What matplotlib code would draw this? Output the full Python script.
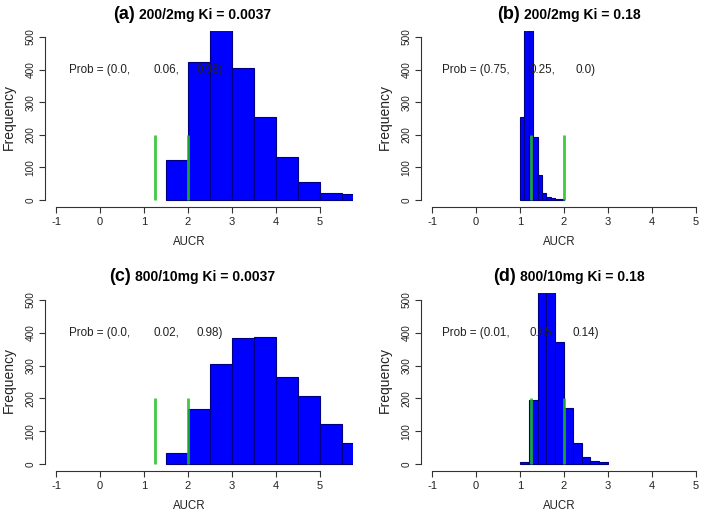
import matplotlib
matplotlib.use('Agg')
import matplotlib.pyplot as plt
from matplotlib.offsetbox import TextArea, HPacker, AnnotationBbox

# histogram bins and counts (clipped bars estimated above 520)
edges_a = [1.5, 2.0, 2.5, 3.0, 3.5, 4.0, 4.5, 5.0, 5.5, 6.0]
counts_a = [122, 423, 560, 404, 255, 131, 56, 22, 18]

edges_b = [1.0, 1.1, 1.2, 1.3, 1.4, 1.5, 1.6, 1.7, 1.8, 1.9, 2.0]
counts_b = [255, 740, 690, 194, 77, 20, 8, 6, 3, 2]

edges_c = [1.5, 2.0, 2.5, 3.0, 3.5, 4.0, 4.5, 5.0, 5.5, 6.0]
counts_c = [35, 168, 305, 383, 387, 265, 208, 122, 65]

edges_d = [1.0, 1.2, 1.4, 1.6, 1.8, 2.0, 2.2, 2.4, 2.6, 2.8, 3.0]
counts_d = [6, 195, 600, 555, 373, 170, 65, 22, 8, 6]

letters = ['(a)', '(b)', '(c)', '(d)']
titles = ['200/2mg Ki = 0.0037', '200/2mg Ki = 0.18',
          '800/10mg Ki = 0.0037', '800/10mg Ki = 0.18']
probs = [['Prob = (0.0,', '0.06,', '0.98)'],
         ['Prob = (0.75,', '0.25,', '0.0)'],
         ['Prob = (0.0,', '0.02,', '0.98)'],
         ['Prob = (0.01,', '0.85,', '0.14)']]
prob_x = [0, 1.5, 2.5]
prob_y = 400
cutoffs = [1.25, 2.0]
cutoff_height = 200
xticks = [-1, 0, 1, 2, 3, 4, 5]
yticks = [0, 100, 200, 300, 400, 500]

narrow = ['Liberation Sans Narrow', 'Liberation Sans', 'DejaVu Sans']
regular = ['Liberation Sans', 'DejaVu Sans']

fig = plt.figure(figsize=(7.04, 5.19), dpi=100)

W, H = 704.0, 519.0
# axes boxes in pixels: left, top, width, height
boxes = [(44.6, 30.5, 308.8, 176.0), (420.6, 30.5, 308.8, 176.0),
         (44.6, 293.4, 308.8, 177.2), (420.6, 293.4, 308.8, 177.2)]
xlab_x = [2.02, 1.9, 2.02, 1.9]

hists = [(edges_a, counts_a), (edges_b, counts_b), (edges_c, counts_c), (edges_d, counts_d)]

for i in range(4):
    l, t, w, h = boxes[i]
    ax = fig.add_axes([l / W, 1 - (t + h) / H, w / W, h / H])
    edges, counts = hists[i]
    ax.hist(edges[:-1], bins=edges, weights=counts, color='#0000ff',
            edgecolor='#000080', linewidth=0.8, zorder=2)
    ax.vlines(cutoffs, 0, cutoff_height, color='#1fbf1f', linewidth=2.0,
              alpha=0.85, zorder=3)
    for s, xx in zip(probs[i], prob_x):
        ax.text(xx, prob_y, s, ha='center', va='center', fontsize=8.4,
                family=narrow, color='#222222', zorder=4)

    ax.set_xlim(-1.26, 5.76)
    ax.set_ylim(-20, 520)
    for side in ['top', 'right']:
        ax.spines[side].set_visible(False)
    ax.spines['left'].set_bounds(0, 500)
    ax.spines['bottom'].set_bounds(-1, 5)
    for side in ['left', 'bottom']:
        ax.spines[side].set_color('#333333')
        ax.spines[side].set_linewidth(0.8)
    ax.set_xticks(xticks)
    ax.set_yticks(yticks)
    ax.set_xticklabels([str(v) for v in xticks], family=narrow, fontsize=8)
    ax.set_yticklabels([str(v) for v in yticks], family=regular, fontsize=7.2,
                       rotation=90, va='center')
    ax.tick_params(length=4, width=0.8, color='#333333', labelcolor='#222222', pad=2.5)
    ax.tick_params(axis='x', pad=3.5)

    ax.text(-0.116, 0.51, 'Frequency', transform=ax.transAxes, rotation=90,
            ha='center', va='center', fontsize=10, family=regular, color='#222222')
    ax.text(xlab_x[i], -0.165, 'AUCR', transform=ax.get_xaxis_transform(),
            ha='center', va='top', fontsize=8.3, family=narrow, color='#222222')

    box = HPacker(children=[
        TextArea(letters[i], textprops=dict(fontsize=13, fontweight='bold', family=regular)),
        TextArea(titles[i], textprops=dict(fontsize=10, fontweight='bold', family=narrow))],
        align='baseline', pad=0, sep=3)
    ab = AnnotationBbox(box, (2.1, 1.045), xycoords=('data', 'axes fraction'),
                        box_alignment=(0.5, 0), frameon=False, pad=0,
                        annotation_clip=False)
    ax.add_artist(ab)

fig.savefig('out.png', dpi=100)
